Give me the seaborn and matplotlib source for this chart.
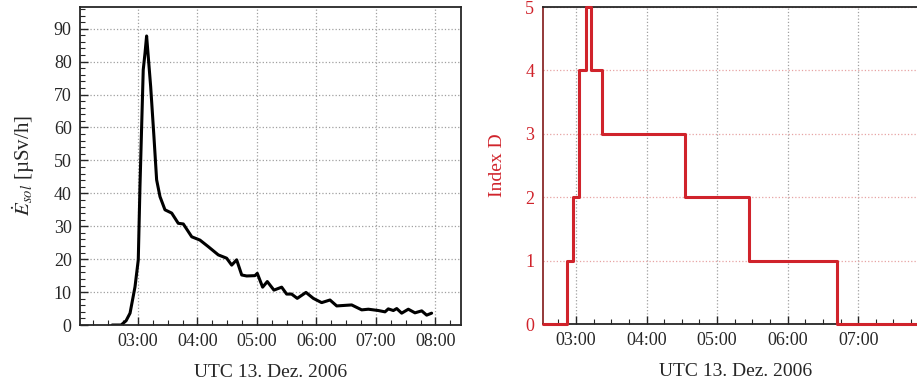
import numpy as np
import matplotlib
matplotlib.use('Agg')
import matplotlib.pyplot as plt
from matplotlib.ticker import MultipleLocator, FuncFormatter
import seaborn as sns

# dose rate curve, time in minutes since 00:00 UTC
dose_minutes = [154, 163, 168, 172, 177, 180.3, 182, 183.7, 185.3, 187.1, 188.7,
                192.8, 196.1, 198.8, 202.2, 207.2, 214, 220.6, 225.7, 234.2, 242.5,
                250.9, 261, 269.4, 274.5, 279.5, 284.6, 289.6, 298, 300.3, 305.7,
                310.4, 317.1, 324.9, 329.9, 334.9, 340.6, 349.4, 356.8, 365.2, 373.6,
                380.4, 395.5, 405.6, 412.3, 422.4, 429.1, 432.4, 437.5, 440.9, 445.9,
                452.6, 459.3, 466.1, 471.1, 476.1]
dose_rate = [0, 0, 1.3, 3.6, 11.6, 19.8, 42, 60.3, 77.5, 82.6, 87.8,
             72.4, 57.2, 44.1, 39, 35, 34, 30.9, 30.7, 26.8, 25.8,
             23.8, 21.3, 20.3, 18.2, 19.8, 15.2, 14.9, 15.0, 15.7, 11.5,
             13.2, 10.6, 11.5, 9.4, 9.4, 8.1, 9.9, 8.1, 6.8, 7.6,
             5.8, 6.1, 4.6, 4.8, 4.4, 4.0, 4.9, 4.4, 5.0, 3.6,
             4.8, 3.7, 4.3, 3.0, 3.6]

# index D steps (value holds from this time on)
index_minutes = [151.7, 172.6, 177.2, 182.8, 188.5, 192.7, 202.4, 272.6, 327.3, 402.4, 480]
index_d = [0, 1, 2, 4, 5, 4, 3, 2, 1, 0, 0]

left_ticks = [180, 240, 300, 360, 420, 480]
right_ticks = [180, 240, 300, 360, 420]

red = '#d0232b'

sns.set_style('ticks')
plt.rcParams['font.family'] = ['Liberation Serif', 'DejaVu Serif']
plt.rcParams['mathtext.fontset'] = 'stix'


def hhmm(v, pos):
    return f"{int(v // 60):02d}:{int(round(v % 60)):02d}"


fig = plt.figure(figsize=(9.17, 3.85), dpi=100)
ax1 = fig.add_axes([0.0872, 0.1558, 0.4155, 0.826])
ax2 = fig.add_axes([0.5918, 0.1584, 0.4210, 0.8234])

# left panel
sns.lineplot(x=dose_minutes, y=dose_rate, ax=ax1, color='black', linewidth=2.2,
             estimator=None)
ax1.set_xlim(121.5, 505.7)
ax1.set_ylim(0, 96.6)
ax1.set_xticks(left_ticks)
ax1.xaxis.set_minor_locator(MultipleLocator(15))
ax1.xaxis.set_major_formatter(FuncFormatter(hhmm))
ax1.yaxis.set_major_locator(MultipleLocator(10))
ax1.yaxis.set_minor_locator(MultipleLocator(2))
ax1.grid(True, which='major', color='#a0a0a0', linestyle=':', linewidth=0.9)
ax1.tick_params(which='both', direction='in', labelsize=13, pad=6)
ax1.tick_params(which='major', length=6, width=1)
ax1.tick_params(which='minor', length=3.5, width=0.8)
for s in ax1.spines.values():
    s.set_linewidth(1.3)
ax1.set_xlabel('UTC 13. Dez. 2006', fontsize=14, labelpad=10)
ax1.set_ylabel(r'$\dot{E}_{sol}$ [µSv/h]', fontsize=15, labelpad=12)

# right panel
sns.lineplot(x=index_minutes, y=index_d, ax=ax2, color=red, linewidth=2.2,
             drawstyle='steps-post', estimator=None, clip_on=False, zorder=5)
ax2.set_xlim(151.7, 480)
ax2.set_ylim(0, 5)
ax2.set_xticks(right_ticks)
ax2.xaxis.set_minor_locator(MultipleLocator(15))
ax2.xaxis.set_major_formatter(FuncFormatter(hhmm))
ax2.yaxis.set_major_locator(MultipleLocator(1))
ax2.xaxis.grid(True, color='#a0a0a0', linestyle=':', linewidth=0.9)
ax2.yaxis.grid(True, color='#e7a3a3', linestyle=':', linewidth=0.9)
ax2.tick_params(axis='x', which='both', direction='in', labelsize=13, pad=6)
ax2.tick_params(axis='x', which='major', length=6, width=1)
ax2.tick_params(axis='x', which='minor', length=3.5, width=0.8)
ax2.tick_params(axis='y', length=0, labelsize=13, labelcolor=red, pad=6)
for s in ax2.spines.values():
    s.set_linewidth(1.3)
ax2.spines['left'].set_color('#8b2a2a')
ax2.spines['right'].set_visible(False)
ax2.set_xlabel('UTC 13. Dez. 2006', fontsize=14, labelpad=10)
ax2.set_ylabel('Index D', fontsize=14, color=red, labelpad=14)

fig.savefig('out.png', dpi=100)
